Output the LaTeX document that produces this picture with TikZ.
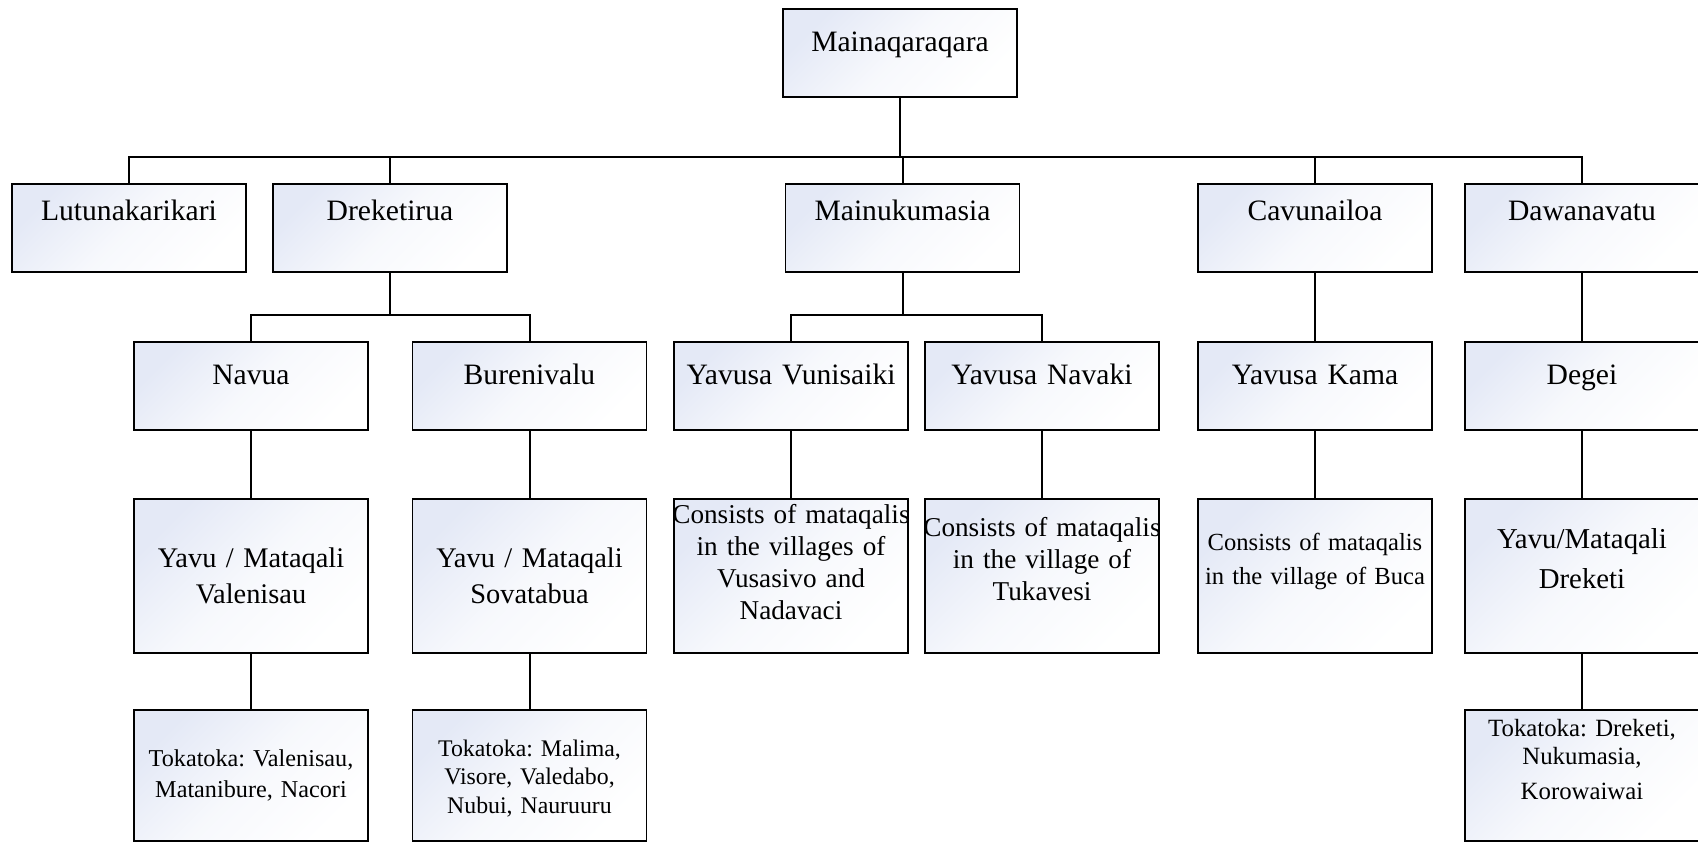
\documentclass[tikz,border=0pt]{standalone}
\usepackage{fontspec}
\setmainfont{Liberation Serif}
\frenchspacing
\definecolor{boxblue}{RGB}{228,233,246}
\tikzset{
	box/.style={draw, line width=.9pt, top color=boxblue, bottom color=white, middle color=white!70!boxblue, shading angle=45,
		text width=127pt, align=center, inner ysep=0pt, inner xsep=-5pt, font=\fontsize{14.8}{18}\selectfont},
	conn/.style={line width=1pt},
}
\begin{document}
\begin{tikzpicture}[x=0.5pt,y=-0.5pt]
	\useasboundingbox (0,0) rectangle (1698,842);
	% top
	\node[box, text height=21pt, text depth=23pt] (mqq) at (900,53) {Mainaqaraqara};
	% second row
	\node[box, text height=18.25pt, text depth=25.75pt] (lutu) at (129,228) {Lutunakarikari};
	\node[box, text height=18.25pt, text depth=25.75pt] (dreke) at (390,228) {Dreketirua};
	\node[box, text height=18.25pt, text depth=25.75pt] (mainu) at (902.5,228) {Mainukumasia};
	\node[box, text height=18.25pt, text depth=25.75pt] (cavu) at (1315,228) {Cavunailoa};
	\node[box, text height=18.25pt, text depth=25.75pt] (dawa) at (1582,228) {Dawanavatu};
	% third row
	\node[box, text height=21pt, text depth=23pt] (navua) at (251,386) {Navua};
	\node[box, text height=21pt, text depth=23pt] (bure) at (529.5,386) {Burenivalu};
	\node[box, text height=21pt, text depth=23pt] (vuni) at (791,386) {Yavusa Vunisaiki};
	\node[box, text height=21pt, text depth=23pt] (navaki) at (1042,386) {Yavusa Navaki};
	\node[box, text height=21pt, text depth=23pt] (kama) at (1315,386) {Yavusa Kama};
	\node[box, text height=21pt, text depth=23pt] (degei) at (1582,386) {Degei};
	% fourth row
	\node[box, text height=34pt, text depth=43pt, font=\fontsize{14.2}{18}\selectfont] (valen) at (251,576) {Yavu / Mataqali\\Valenisau};
	\node[box, text height=34pt, text depth=43pt, font=\fontsize{14.2}{18}\selectfont] (sova) at (529.5,576) {Yavu / Mataqali\\Sovatabua};
	\node[box, text height=12pt, text depth=65pt, font=\fontsize{13.6}{16}\selectfont] (vuniC) at (791,576) {Consists of mataqalis\\in the villages of\\Vusasivo and\\Nadavaci};
	\node[box, text height=18.5pt, text depth=58.5pt, font=\fontsize{13.6}{16}\selectfont] (navakiC) at (1042,576) {Consists of mataqalis\\in the village of\\Tukavesi};
	\node[box, text height=25.5pt, text depth=51.5pt, font=\fontsize{12.3}{17}\selectfont] (kamaC) at (1315,576) {Consists of mataqalis\\in the village of Buca};
	\node[box, text height=24.5pt, text depth=52.5pt, font=\fontsize{14.4}{20}\selectfont] (drekY) at (1582,576) {Yavu/Mataqali\\Dreketi};
	% bottom row
	\node[box, text height=28pt, text depth=37.5pt, font=\fontsize{12.1}{15.5}\selectfont] (tokV) at (251,775.5) {Tokatoka: Valenisau,\\Matanibure, Nacori};
	\node[box, text height=23pt, text depth=42.5pt, font=\fontsize{11.9}{14.3}\selectfont] (tokM) at (529.5,775.5) {Tokatoka: Malima,\\Visore, Valedabo,\\Nubui, Nauruuru};
	\node[box, text height=13pt, text depth=52.5pt, font=\fontsize{12.4}{14}\selectfont] (tokD) at (1582,775.5) {Tokatoka: Dreketi,\\Nukumasia,\\[3.5pt]Korowaiwai};

	% connectors
	\coordinate (bus1) at (900,157);
	\draw[conn] (mqq) -- (bus1);
	\foreach \n in {lutu,dreke,mainu,cavu,dawa}
		\draw[conn] (bus1) -| (\n.north);
	\coordinate (bus2) at (dreke.south |- 0,315);
	\draw[conn] (dreke) -- (bus2);
	\foreach \n in {navua,bure}
		\draw[conn] (bus2) -| (\n.north);
	\coordinate (bus3) at (mainu.south |- 0,315);
	\draw[conn] (mainu) -- (bus3);
	\foreach \n in {vuni,navaki}
		\draw[conn] (bus3) -| (\n.north);
	\draw[conn] (cavu) -- (kama);
	\draw[conn] (dawa) -- (degei);
	\draw[conn] (navua) -- (valen);
	\draw[conn] (bure) -- (sova);
	\draw[conn] (vuni) -- (vuniC);
	\draw[conn] (navaki) -- (navakiC);
	\draw[conn] (kama) -- (kamaC);
	\draw[conn] (degei) -- (drekY);
	\draw[conn] (valen) -- (tokV);
	\draw[conn] (sova) -- (tokM);
	\draw[conn] (drekY) -- (tokD);
\end{tikzpicture}
\end{document}
